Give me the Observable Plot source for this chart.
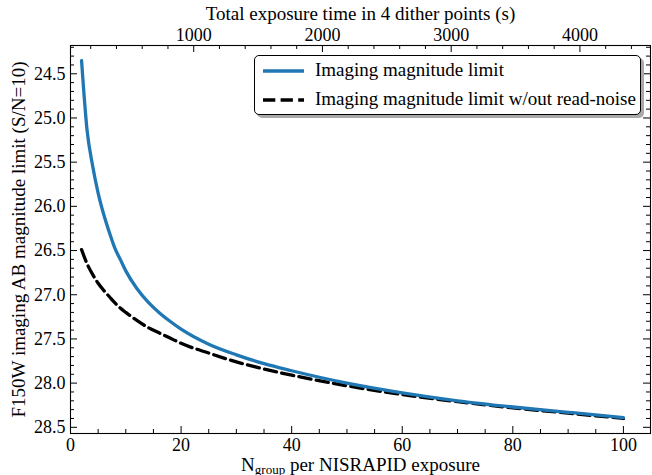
<!DOCTYPE html>
<html><head><meta charset="utf-8">
<script src="https://cdn.jsdelivr.net/npm/d3@7"></script>
<script src="https://cdn.jsdelivr.net/npm/@observablehq/plot@0.6"></script>
<style>
body{margin:0;background:#fff;}
#wrap{position:relative;width:652px;height:475px;font-family:'Liberation Serif','Times New Roman',Times,'DejaVu Serif',serif;}
#wrap svg text{font-family:'Liberation Serif','Times New Roman',Times,'DejaVu Serif',serif;}
.legend{position:absolute;left:254px;top:55px;width:387px;height:60px;border:1px solid #000;border-radius:5px;background:#fff;box-shadow:3px 3px 0 #aaa;box-sizing:border-box;}
.legend .row{position:absolute;left:0;height:20px;}
.legend svg{position:absolute;left:7px;top:0;}
.legend span{position:absolute;left:60px;top:-2px;font-size:19px;white-space:nowrap;line-height:22px;}
</style></head><body><div id="wrap"></div>
<script>
// ---- data ----
const ngroup    = [2, 3, 4, 5, 6, 7, 8, 9, 10, 12, 14, 16, 18, 20, 25, 30, 35, 40, 50, 60, 70, 80, 90, 100];
const magWithRN = [24.35, 25.14, 25.54, 25.85, 26.09, 26.29, 26.47, 26.60, 26.73, 26.93, 27.08, 27.20, 27.30, 27.39, 27.56, 27.68, 27.78, 27.86, 28.00, 28.11, 28.20, 28.27, 28.33, 28.39];
const magNoRN   = [26.49, 26.65, 26.77, 26.87, 26.95, 27.02, 27.09, 27.15, 27.20, 27.29, 27.37, 27.43, 27.49, 27.55, 27.66, 27.76, 27.84, 27.91, 28.03, 28.13, 28.21, 28.28, 28.34, 28.40];
const seriesNames = ["Imaging magnitude limit", "Imaging magnitude limit w/out read-noise"];
const xTicks = [0, 20, 40, 60, 80, 100];
const yTicks = [24.5, 25.0, 25.5, 26.0, 26.5, 27.0, 27.5, 28.0, 28.5];
const topTickLabels = [1000, 2000, 3000, 4000];
const secondsPerGroup = 4 * 10.737; // 4 dithers x NISRAPID frame time
const XLABEL = "Ngroup per NISRAPID exposure";
const YLABEL = "F150W imaging AB magnitude limit (S/N=10)";
const TLABEL = "Total exposure time in 4 dither points (s)";

const FONT = "'Liberation Serif', 'Times New Roman', Times, 'DejaVu Serif', serif";
const W = 652, H = 475, ML = 70, MR = 2, MT = 45, MB = 42;
const PW = W - ML - MR, PH = H - MT - MB;
const MAJ = 7, MIN = 4;

const rows = ngroup.map((n, i) => ({n, rn: magWithRN[i], norn: magNoRN[i]}));
const timeToN = t => t / secondsPerGroup - 1;
const topMajor = topTickLabels.map(timeToN);
const topMinor = d3.range(200, 4600, 200).filter(t => t % 1000 !== 0).map(timeToN).filter(n => n <= 104.9);
const xMinor = d3.range(0, 105, 5).filter(v => v % 20 !== 0);
const yMinor = d3.range(242, 286, 1).map(v => v / 10).filter(v => Math.round(v * 10) % 5 !== 0);

const blue = "#1f77b4";
const chart = Plot.plot({
  width: W, height: H,
  marginLeft: ML, marginRight: MR, marginTop: MT, marginBottom: MB,
  style: {fontFamily: FONT, fontSize: "18px", background: "white", color: "black"},
  x: {domain: [0, 104.9]},
  y: {domain: [24.18, 28.57], reverse: true},
  marks: [
    Plot.line(rows, {x: "n", y: "norn", stroke: "black", strokeWidth: 3.3, strokeDasharray: "12.3,5.3", curve: "monotone-x"}),
    Plot.line(rows, {x: "n", y: "rn", stroke: blue, strokeWidth: 3.3, curve: "monotone-x"}),
    Plot.frame({stroke: "black", strokeWidth: 1.1}),
    // bottom ticks (inward)
    Plot.ruleX(xTicks, {x: d => d, insetTop: PH - MAJ, stroke: "black"}),
    Plot.ruleX(xMinor, {x: d => d, insetTop: PH - MIN, stroke: "black"}),
    // top ticks (secondary axis)
    Plot.ruleX(topMajor, {x: d => d, insetBottom: PH - MAJ, stroke: "black"}),
    Plot.ruleX(topMinor, {x: d => d, insetBottom: PH - MIN, stroke: "black"}),
    // left & right ticks
    Plot.ruleY(yTicks, {y: d => d, insetRight: PW - MAJ, stroke: "black"}),
    Plot.ruleY(yMinor, {y: d => d, insetRight: PW - MIN, stroke: "black"}),
    Plot.ruleY(yTicks, {y: d => d, insetLeft: PW - MAJ, stroke: "black"}),
    Plot.ruleY(yMinor, {y: d => d, insetLeft: PW - MIN, stroke: "black"}),
    Plot.axisX({ticks: xTicks, tickSize: 0, tickPadding: 5, label: null, fontSize: 18}),
    Plot.axisY({ticks: yTicks, tickSize: 0, tickPadding: 5, label: null, fontSize: 18, tickFormat: d => d.toFixed(1)}),
    Plot.text(topMajor, {x: d => d, text: (d, i) => String(topTickLabels[i]), frameAnchor: "top", lineAnchor: "bottom", dy: -5, fontSize: 18}),
    Plot.text([TLABEL], {text: d => d, frameAnchor: "top", textAnchor: "middle", lineAnchor: "bottom", dy: -26, fontSize: 19}),
    Plot.text([YLABEL], {text: d => d, frameAnchor: "left", textAnchor: "middle", lineAnchor: "middle", rotate: -90, dx: -52, fontSize: 19}),
    Plot.text([XLABEL], {text: d => d, frameAnchor: "bottom", textAnchor: "middle", lineAnchor: "bottom", dy: 37, fontSize: 19})
  ]
});

// subscript in the x label
d3.select(chart).selectAll("text").filter(function() { return this.textContent === XLABEL; }).each(function() {
  const t = d3.select(this);
  t.text(null);
  t.append("tspan").text("N");
  t.append("tspan").attr("font-size", "13px").attr("dy", "3").text("group");
  t.append("tspan").attr("dy", "-3").text(" per NISRAPID exposure");
});

const wrap = document.getElementById("wrap");
wrap.appendChild(chart);

// legend
const legend = document.createElement("div");
legend.className = "legend";
const styles = [{stroke: blue, dash: null}, {stroke: "black", dash: "12.3,5.3"}];
seriesNames.forEach((name, i) => {
  const row = document.createElement("div");
  row.className = "row";
  row.style.top = (i === 0 ? 5 : 34) + "px";
  row.style.width = "380px";
  const s = styles[i];
  row.innerHTML = `<svg width="44" height="20"><line x1="1" x2="42" y1="10" y2="10" stroke="${s.stroke}" stroke-width="3.3" ${s.dash ? `stroke-dasharray="${s.dash}"` : ""}/></svg><span>${name}</span>`;
  legend.appendChild(row);
});
wrap.appendChild(legend);
</script>
</body></html>
